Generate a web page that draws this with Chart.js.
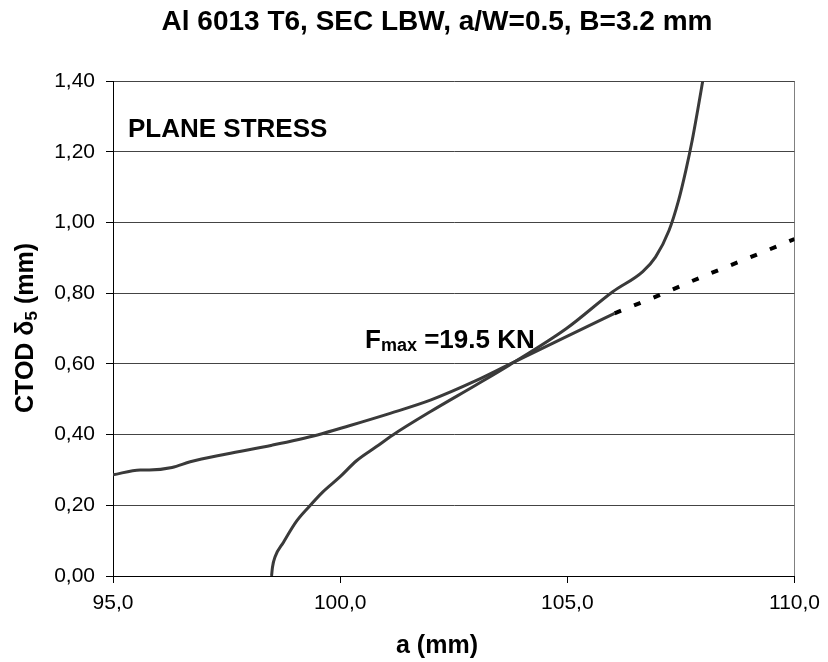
<!DOCTYPE html>
<html><head><meta charset="utf-8">
<script src="https://cdn.jsdelivr.net/npm/chart.js@4/dist/chart.umd.min.js"></script>
<style>html,body{margin:0;padding:0;background:#fff}#wrap{width:828px;height:662px}</style>
</head><body><div id="wrap"><canvas id="c" width="828" height="662"></canvas></div>
<script>
const curve1X = [95.0, 95.6, 95.8, 96.3, 96.7, 97.5, 98.5, 99.5, 100.2, 101.1, 102.0, 103.0, 103.7, 104.9, 106.04];
const curve1Y = [0.286, 0.300, 0.300, 0.307, 0.323, 0.345, 0.370, 0.399, 0.425, 0.460, 0.498, 0.553, 0.597, 0.672, 0.743];
const curve2X = [98.49, 98.51, 98.57, 98.75, 99.04, 99.3, 99.62, 100.0, 100.36, 100.8, 101.16, 102.0, 103.0, 103.73, 104.98, 106.0, 106.66, 106.94, 107.24, 107.45, 107.61, 107.75, 107.87, 107.98];
const curve2Y = [0.0, 0.025, 0.055, 0.095, 0.155, 0.194, 0.238, 0.281, 0.326, 0.366, 0.399, 0.466, 0.541, 0.597, 0.70, 0.804, 0.861, 0.902, 0.978, 1.063, 1.148, 1.233, 1.318, 1.40];
const extX = [106.04, 107.0, 108.0, 109.0, 110.0];
const extY = [0.743, 0.793, 0.848, 0.900, 0.953];
const xTicks = [95, 100, 105, 110];
const yTicks = [0, 0.2, 0.4, 0.6, 0.8, 1.0, 1.2, 1.4];
const titleText = 'Al 6013 T6, SEC LBW, a/W=0.5, B=3.2 mm';
const xTitle = 'a (mm)';
const noteText = 'PLANE STRESS';

const pts = (xs, ys) => xs.map((x, i) => ({x, y: ys[i]}));
const FONT = "'Liberation Sans', Arial, sans-serif";

const textPlugin = {
  id: 'texts',
  afterDraw(chart) {
    const ctx = chart.ctx;
    ctx.save();
    ctx.fillStyle = '#000';
    ctx.textBaseline = 'alphabetic';
    ctx.font = 'bold 28px ' + FONT;
    ctx.textAlign = 'center';
    ctx.fillText(titleText, 437, 30);
    ctx.font = 'bold 25px ' + FONT;
    ctx.fillText(xTitle, 437, 653);
    ctx.save();
    ctx.translate(33, 328);
    ctx.rotate(-Math.PI / 2);
    ctx.textAlign = 'left';
    const p1 = 'CTOD \u03b4', sub = '5', p2 = ' (mm)';
    ctx.font = 'bold 25px ' + FONT;
    const w1 = ctx.measureText(p1).width, w3 = ctx.measureText(p2).width;
    ctx.font = 'bold 17px ' + FONT;
    const w2 = ctx.measureText(sub).width;
    let x0 = -(w1 + w2 + w3) / 2;
    ctx.font = 'bold 25px ' + FONT;
    ctx.fillText(p1, x0, 0);
    ctx.font = 'bold 17px ' + FONT;
    ctx.fillText(sub, x0 + w1, 4);
    ctx.font = 'bold 25px ' + FONT;
    ctx.fillText(p2, x0 + w1 + w2, 0);
    ctx.restore();
    ctx.textAlign = 'left';
    ctx.font = 'bold 26px ' + FONT;
    ctx.fillText(noteText, 128, 137);
    ctx.fillText('F', 365, 348);
    const wf = ctx.measureText('F').width;
    ctx.font = 'bold 18px ' + FONT;
    ctx.fillText('max', 365 + wf, 351);
    const wm = ctx.measureText('max').width;
    ctx.font = 'bold 26px ' + FONT;
    ctx.fillText(' =19.5 KN', 365 + wf + wm, 348);
    ctx.restore();
  }
};

new Chart(document.getElementById('c'), {
  type: 'scatter',
  data: {
    datasets: [
      {data: pts(curve1X, curve1Y), showLine: true, borderColor: '#3a3a3a', borderWidth: 3, pointRadius: 0, cubicInterpolationMode: 'monotone', fill: false},
      {data: pts(curve2X, curve2Y), showLine: true, borderColor: '#3a3a3a', borderWidth: 3, pointRadius: 0, cubicInterpolationMode: 'monotone', fill: false},
      {data: pts(extX, extY), showLine: true, borderColor: '#000', borderWidth: 4, borderDash: [7, 14], borderCapStyle: 'butt', pointRadius: 0, cubicInterpolationMode: 'monotone', fill: false}
    ]
  },
  options: {
    responsive: false,
    animation: false,
    devicePixelRatio: 1,
    layout: {padding: {top: 81, right: 33, left: 0, bottom: 0}},
    plugins: {legend: {display: false}, tooltip: {enabled: false}, title: {display: false}},
    scales: {
      x: {
        type: 'linear', min: 95, max: 110,
        afterBuildTicks: s => { s.ticks = xTicks.map(v => ({value: v})); },
        afterFit: s => { s.height = 86; },
        ticks: {color: '#000', font: {size: 21, family: FONT}, padding: 8, maxRotation: 0,
          callback: v => v.toFixed(1).replace('.', ',')},
        grid: {drawOnChartArea: true, color: c => c.tick && c.tick.value === 110 ? '#808080' : 'rgba(0,0,0,0)', tickColor: '#000', tickLength: 7, lineWidth: 1},
        border: {color: '#000', width: 1}
      },
      y: {
        type: 'linear', min: 0, max: 1.4,
        afterBuildTicks: s => { s.ticks = yTicks.map(v => ({value: v})); },
        afterFit: s => { s.width = 113; },
        ticks: {color: '#000', font: {size: 21, family: FONT}, padding: 11,
          callback: v => v.toFixed(2).replace('.', ',')},
        grid: {color: '#444', tickColor: '#000', tickLength: 7, lineWidth: 1},
        border: {color: '#000', width: 1}
      }
    }
  },
  plugins: [textPlugin]
});
</script></body></html>
